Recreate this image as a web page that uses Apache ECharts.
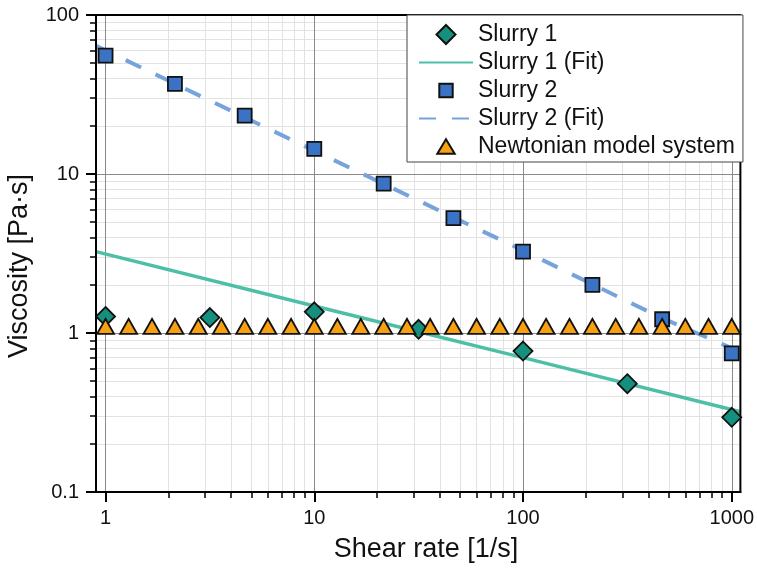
<!DOCTYPE html>
<html><head><meta charset="utf-8">
<script src="https://cdn.jsdelivr.net/npm/echarts@6/dist/echarts.min.js"></script>
<style>html,body{margin:0;padding:0;background:#fff}#c{width:757px;height:573px}</style>
</head><body><div id="c"></div>
<script>
const slurry1X = [1, 3.16, 10, 31.6, 100, 316, 1000];
const slurry1Y = [1.27, 1.25, 1.36, 1.055, 0.77, 0.48, 0.295];
const slurry1FitX = [0.9, 10, 100, 1100];
const slurry1FitY = [3.25, 1.48, 0.70, 0.32];
const slurry2X = [1, 2.15, 4.64, 10, 21.5, 46.4, 100, 215, 464, 1000];
const slurry2Y = [55.6, 36.9, 23.3, 14.4, 8.7, 5.28, 3.25, 2.01, 1.22, 0.745];
const slurry2FitX = [0.9, 10, 100, 464, 1100];
const slurry2FitY = [64, 14.0, 3.30, 1.24, 0.76];
const newtonX = [1, 1.29, 1.67, 2.15, 2.78, 3.59, 4.64, 5.99, 7.74, 10, 12.9, 16.7, 21.5, 27.8, 35.9, 46.4, 59.9, 77.4, 100, 129, 167, 215, 278, 359, 464, 599, 774, 1000];
const newtonY = [1.1, 1.1, 1.1, 1.1, 1.1, 1.1, 1.1, 1.1, 1.1, 1.1, 1.1, 1.1, 1.1, 1.1, 1.1, 1.1, 1.1, 1.1, 1.1, 1.1, 1.1, 1.1, 1.1, 1.1, 1.1, 1.1, 1.1, 1.1];

const seriesNames = ['Slurry 1', 'Slurry 1 (Fit)', 'Slurry 2', 'Slurry 2 (Fit)', 'Newtonian model system'];

// ---- axes ----
const xRange = [0.9, 1100];
const yRange = [0.1, 100];
const xTickValues = [1, 10, 100, 1000];
const xTickLabels = ['1', '10', '100', '1000'];
const xMinorValues = [2, 3, 4, 5, 6, 7, 8, 9, 20, 30, 40, 50, 60, 70, 80, 90, 200, 300, 400, 500, 600, 700, 800, 900];
const yTickValues = [0.1, 1, 10, 100];
const yTickLabels = ['0.1', '1', '10', '100'];
const yMinorValues = [0.2, 0.3, 0.4, 0.5, 0.6, 0.7, 0.8, 0.9, 2, 3, 4, 5, 6, 7, 8, 9, 20, 30, 40, 50, 60, 70, 80, 90];
const xTitle = 'Shear rate [1/s]';
const yTitle = 'Viscosity [Pa·s]';

const L = Math.log10;
const pairs = (xs, ys) => xs.map((x, i) => [L(x), L(ys[i])]);
const labelFor = (vals, labels) => v => {
  const i = vals.findIndex(t => Math.abs(L(t) - v) < 1e-6);
  return i >= 0 ? labels[i] : '';
};

const FONT = 'Liberation Sans, Arial, sans-serif';

// legend icon shapes (19x19 box; zero-length segments pin the box so the shape keeps its size)
const ICON_DIAMOND = 'path://M9.5,0L19,9.5L9.5,19L0,9.5Z';
const ICON_SQUARE = 'path://M0,0L0,0M2.8,2.8L16.2,2.8L16.2,16.2L2.8,16.2ZM19,19L19,19';
const ICON_TRIANGLE = 'path://M0,0L0,0M9.5,2.2L18.2,16.8L0.8,16.8ZM19,19L19,19';

function majorAxis(dim, range, ticks, labels) {
  const isX = dim === 'x';
  return {
    type: 'value', gridIndex: 0, position: isX ? 'bottom' : 'left',
    min: L(range[0]), max: L(range[1]),
    axisLine: { show: true, onZero: false, lineStyle: { color: '#000', width: 2 } },
    axisTick: { show: true, inside: false, length: 10, customValues: ticks.map(L), lineStyle: { color: '#000', width: 2 } },
    axisLabel: { show: true, customValues: ticks.map(L), formatter: labelFor(ticks, labels),
      fontFamily: FONT, fontSize: 20, color: '#111', margin: isX ? 16 : 17 },
    splitLine: { show: true, lineStyle: { color: '#8a8a8a', width: 1 } },
    z: 1
  };
}
function minorAxis(dim, range, ticks) {
  const isX = dim === 'x';
  return {
    type: 'value', gridIndex: 0, position: isX ? 'bottom' : 'left',
    min: L(range[0]), max: L(range[1]),
    axisLine: { show: false, onZero: false },
    axisTick: { show: true, inside: false, length: 6, customValues: ticks.map(L), lineStyle: { color: '#000', width: 1.5 } },
    axisLabel: { show: false },
    splitLine: { show: true, lineStyle: { color: '#e2e2e2', width: 1 } },
    z: 0
  };
}

const chart = echarts.init(document.getElementById('c'), null, { renderer: 'canvas' });
chart.setOption({
  backgroundColor: '#fff',
  animation: false,
  grid: { left: 96, right: 15, top: 15, bottom: 81, show: true, borderColor: '#000', borderWidth: 2, backgroundColor: 'transparent', z: 3 },
  xAxis: [majorAxis('x', xRange, xTickValues, xTickLabels), minorAxis('x', xRange, xMinorValues)],
  yAxis: [majorAxis('y', yRange, yTickValues, yTickLabels), minorAxis('y', yRange, yMinorValues)],
  legend: {
    orient: 'vertical', left: 407, top: 15,
    padding: [8, 8, 4, 11], itemWidth: 54, itemHeight: 19, itemGap: 5,
    backgroundColor: '#fff', borderColor: '#444', borderWidth: 1, borderRadius: 0,
    textStyle: { fontFamily: FONT, fontSize: 23, color: '#111', lineHeight: 23 },
    data: [
      { name: seriesNames[0], icon: ICON_DIAMOND },
      { name: seriesNames[1], itemStyle: { opacity: 0 } },
      { name: seriesNames[2], icon: ICON_SQUARE },
      { name: seriesNames[3], itemStyle: { opacity: 0 } },
      { name: seriesNames[4], icon: ICON_TRIANGLE }
    ],
    z: 10
  },
  graphic: [
    { type: 'text', x: 426, y: 550, z: 20, style: { text: xTitle, font: '27px ' + FONT, fill: '#111', align: 'center', verticalAlign: 'middle' } },
    { type: 'text', x: 20, y: 266, rotation: Math.PI / 2, z: 20, style: { text: yTitle, font: '27px ' + FONT, fill: '#111', align: 'center', verticalAlign: 'middle' } }
  ],
  series: [
    { name: seriesNames[3], type: 'line', xAxisIndex: 0, yAxisIndex: 0, data: pairs(slurry2FitX, slurry2FitY),
      symbol: 'none', smooth: false, z: 2, clip: true,
      lineStyle: { color: '#77a3dc', width: 4, type: [17, 16] }, itemStyle: { color: '#77a3dc', opacity: 0 } },
    { name: seriesNames[1], type: 'line', xAxisIndex: 0, yAxisIndex: 0, data: pairs(slurry1FitX, slurry1FitY),
      symbol: 'none', smooth: false, z: 2, clip: true,
      lineStyle: { color: '#4dbfa6', width: 3.5 }, itemStyle: { color: '#4dbfa6', opacity: 0 } },
    { name: seriesNames[2], type: 'scatter', xAxisIndex: 0, yAxisIndex: 0, data: pairs(slurry2X, slurry2Y),
      symbol: 'rect', symbolSize: 14, z: 3,
      itemStyle: { color: '#3a72c4', borderColor: '#111', borderWidth: 1.8, opacity: 1 } },
    { name: seriesNames[0], type: 'scatter', xAxisIndex: 0, yAxisIndex: 0, data: pairs(slurry1X, slurry1Y),
      symbol: 'diamond', symbolSize: 19, z: 4,
      itemStyle: { color: '#16907e', borderColor: '#111', borderWidth: 1.8, opacity: 1 } },
    { name: seriesNames[4], type: 'scatter', xAxisIndex: 0, yAxisIndex: 0, data: pairs(newtonX, newtonY),
      symbol: 'triangle', symbolSize: [17, 15], z: 5,
      itemStyle: { color: '#f7a012', borderColor: '#111', borderWidth: 1.8, opacity: 1 } }
  ]
});
</script></body></html>
